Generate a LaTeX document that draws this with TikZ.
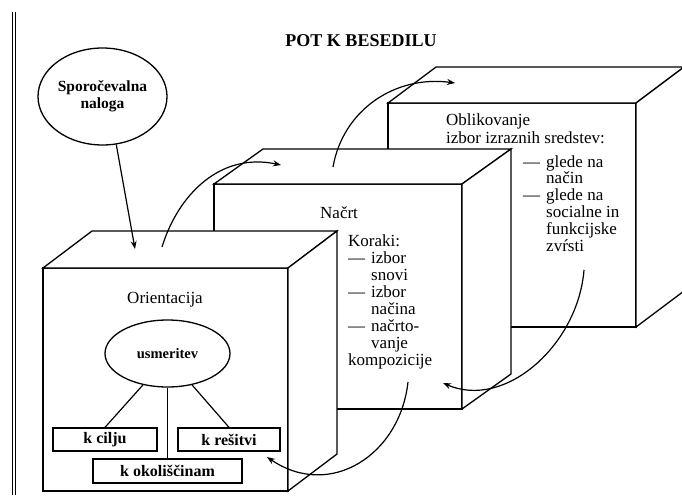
\documentclass[tikz,border=0pt]{standalone}
\usepackage{fontspec}
\setmainfont{Liberation Serif}
\usetikzlibrary{arrows.meta,shapes.geometric}
\newcommand\mycube[6]{%
 \path[face] (#1,#2) rectangle ({#1+#3},{#2+#4});
 \path[face] (#1,#2) -- ({#1+#5},{#2+#6}) -- ({#1+#3+#5},{#2+#6}) -- ({#1+#3},#2) -- cycle;
 \path[face] ({#1+#3},#2) -- ({#1+#3+#5},{#2+#6}) -- ({#1+#3+#5},{#2+#4+#6}) -- ({#1+#3},{#2+#4}) -- cycle;
}
\begin{document}
\begin{tikzpicture}[x=1pt,y=-1pt,
  face/.style={draw,fill=white,line width=1.3pt,line join=miter},
  conn/.style={line width=1.2pt},
  arr/.style={line width=1.2pt,-{Stealth[length=8pt,width=6pt]}},
  txt/.style={inner sep=0pt,font=\fontsize{17}{17}\selectfont},
  lbl/.style={draw,line width=1.3pt,fill=white,inner sep=0pt,font=\fontsize{16}{16}\selectfont\bfseries},
  bord/.style={line width=0.9pt}
]
\fill[white] (0,0) rectangle (682,495);
\useasboundingbox (0,0) rectangle (682,495);

% page border lines
\draw[bord] (12,12) -- (12,495);
\draw[bord] (15.5,12) -- (15.5,495);

% title
\node[font=\fontsize{18}{20}\selectfont\bfseries, anchor=base, inner sep=0pt] (title) at (361,47) {POT K BESEDILU};

% task ellipse
\node[draw, ellipse, line width=1.3pt, minimum width=129pt, minimum height=97pt, inner sep=0pt,
      align=center, font=\fontsize{15.5}{17}\selectfont\bfseries] (task) at (102.5,96.5) {Sporočevalna\\naloga};

% cubes (back to front)
\mycube{388}{103}{248}{224}{48}{-36}
\mycube{214}{184}{248}{225}{49}{-35}
\mycube{43}{268}{245}{223}{49}{-37}

% box 3 text
\node[txt, anchor=base west] (obl) at (446,125) {Oblikovanje};
\node[txt, anchor=base west] (izb) at (446,143) {izbor izraznih sredstev:};
\node[txt, anchor=base west, font=\fontsize{17}{16.7}\selectfont] (gl) at (523,167)
 {\begin{tabular}[t]{@{}l@{\hspace{6pt}}l@{}}
 — & glede na\\
   & način\\
 — & glede na\\
   & socialne in\\
   & funkcijske\\
   & zvŕsti
 \end{tabular}};

% box 2 text
\node[txt, anchor=base west] (nacrt) at (320,218) {Načrt};
\node[txt, anchor=base west] (kor) at (348,246)
 {\begin{tabular}[t]{@{}l@{\hspace{6pt}}l@{}}
 \multicolumn{2}{@{}l@{}}{Koraki:}\\
 — & izbor\\
   & snovi\\
 — & izbor\\
   & načina\\
 — & načrto-\\
   & vanje\\
 \multicolumn{2}{@{}l@{}}{kompozicije}
 \end{tabular}};

% box 1 content
\node[txt, anchor=base] (ori) at (165,303) {Orientacija};
\node[draw, ellipse, line width=1.3pt, minimum width=125pt, minimum height=67pt, inner sep=0pt,
      font=\fontsize{14.5}{16}\selectfont\bfseries] (usm) at (167.5,353.5) {\raisebox{-2pt}{usmeritev}};
\node[lbl, minimum width=104pt, minimum height=23pt] (cilj) at (105,439.5) {k cilju};
\node[lbl, minimum width=102pt, minimum height=23pt] (resi) at (229,439.5) {k rešitvi};
\node[lbl, minimum width=149pt, minimum height=24pt] (okol) at (167.5,471) {k okoliščinam};
\draw[conn] (usm.232) -- (cilj.north);
\draw[conn] (usm.south) -- (okol.north);
\draw[conn] (usm.308) -- (resi.north);

% arrows
\coordinate (tasktip) at (135,249);
\draw[arr] (task.-74) -- (tasktip);

\coordinate (a1s) at (162,247); \coordinate (a1e) at (281,165);
\draw[arr] (a1s) .. controls (178,195) and (220,152) .. (a1e);
\coordinate (a2s) at (333,167); \coordinate (a2e) at (455,83);
\draw[arr] (a2s) .. controls (343,110) and (395,75) .. (a2e);
\coordinate (a3s) at (584,270); \coordinate (a3e) at (443,383);
\draw[arr] (a3s) .. controls (578,345) and (505,410) .. (a3e);
\coordinate (a4s) at (408,382); \coordinate (a4e) at (267,457);
\draw[arr] (a4s) .. controls (400,455) and (330,500) .. (a4e);
\end{tikzpicture}
\end{document}
